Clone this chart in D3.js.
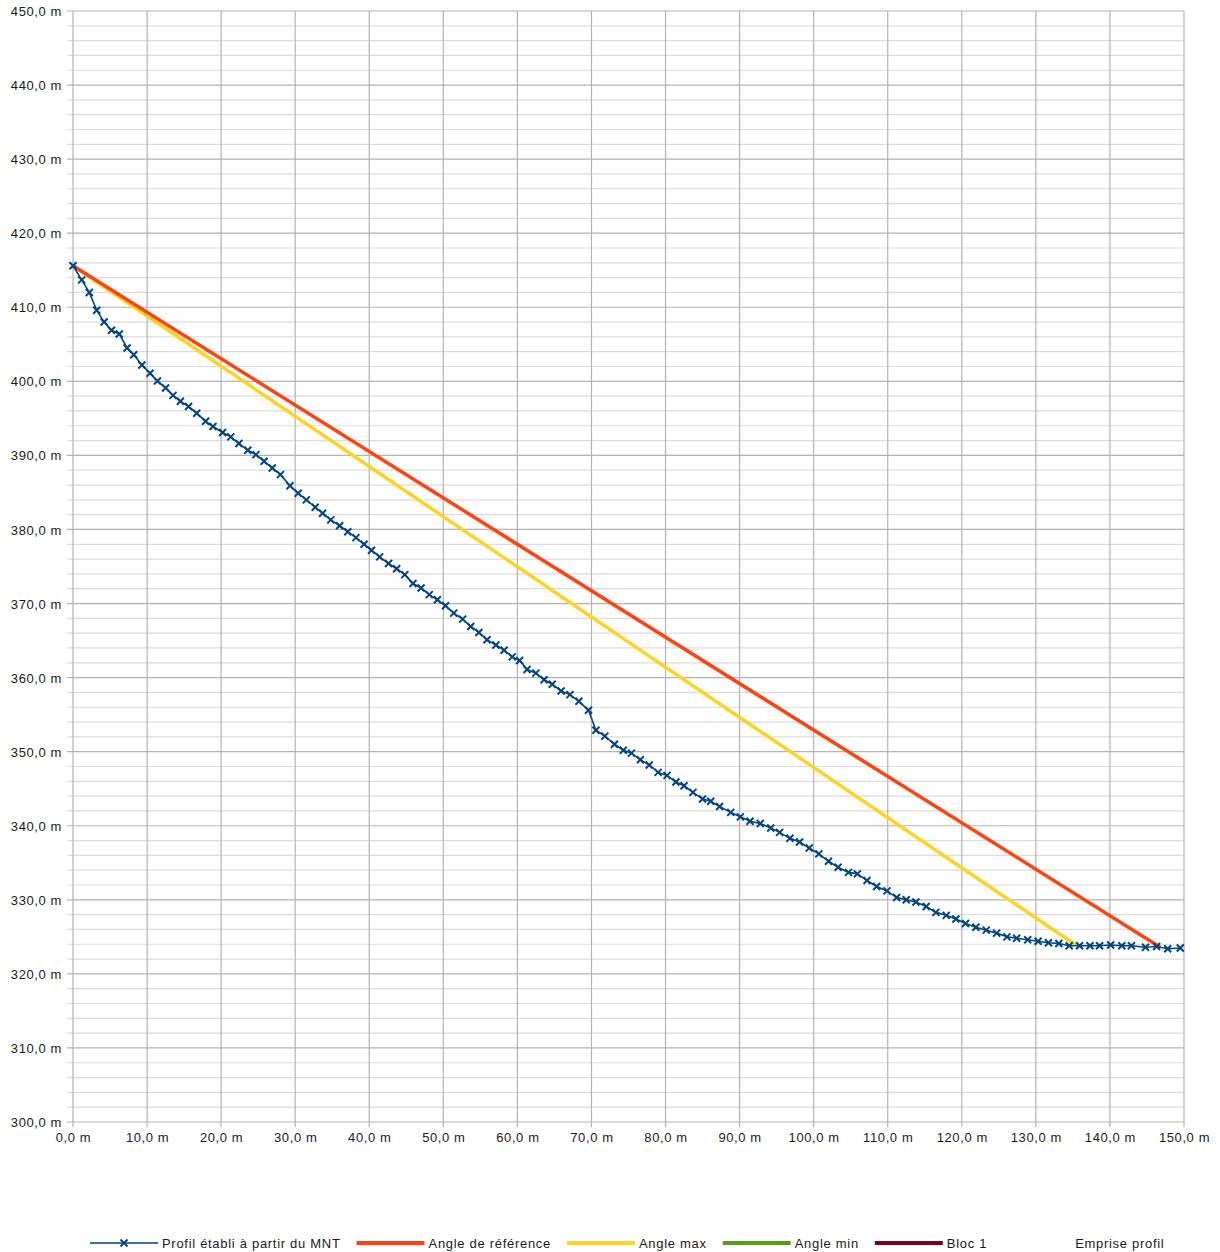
<!DOCTYPE html>
<html>
<head>
<meta charset="utf-8">
<script src="https://cdn.jsdelivr.net/npm/d3@7"></script>
<style>
    body { margin: 0; background: #fff; }
    text { font-family: "Liberation Sans", Arial, sans-serif; font-size: 13px; letter-spacing: 0.6px; fill: #1a1a1a; }
    .legend text { letter-spacing: 0.7px; }
</style>
</head>
<body>
<div id="chart"></div>
<script>

// Profile (distance in m, altitude in m)
var profileX = [0, 1.17, 2.2, 3.2, 4.2, 5.2, 6.25, 7.3, 8.2, 9.3, 10.4, 11.4, 12.5, 13.5, 14.5, 15.6, 16.7, 17.9, 18.9, 20.2,
    21.3, 22.4, 23.6, 24.7, 25.8, 26.9, 28.0, 29.3, 30.4, 31.5, 32.7, 33.7, 34.8, 36.0, 37.1, 38.2, 39.3, 40.3, 41.4, 42.6,
    43.7, 44.8, 45.9, 47.0, 48.1, 49.2, 50.3, 51.4, 52.6, 53.7, 54.8, 55.9, 57.1, 58.2, 59.3, 60.3, 61.3, 62.5, 63.6, 64.7,
    65.9, 67.1, 68.3, 69.6, 70.6, 71.8, 73.1, 74.3, 75.4, 76.6, 77.8, 79.0, 80.2, 81.4, 82.5, 83.7, 85.0, 86.1, 87.3, 88.8,
    90.1, 91.4, 92.8, 94.2, 95.4, 96.8, 98.1, 99.4, 100.7, 102.0, 103.3, 104.7, 105.9, 107.2, 108.5, 109.9, 111.2, 112.5, 113.8, 115.2,
    116.5, 117.9, 119.2, 120.5, 121.9, 123.3, 124.7, 126.1, 127.4, 128.9, 130.3, 131.7, 133.1, 134.5, 135.9, 137.3, 138.6, 140.1, 141.6, 142.9,
    144.8, 146.3, 147.8, 149.5];
var profileY = [415.6, 413.7, 412.0, 409.6, 408.0, 406.9, 406.4, 404.5, 403.6, 402.2, 401.1, 400.05, 399.1, 398.1, 397.3, 396.6, 395.7, 394.6, 393.9, 393.1,
    392.5, 391.6, 390.7, 390.1, 389.2, 388.3, 387.4, 385.9, 384.9, 384.0, 383.0, 382.2, 381.3, 380.5, 379.7, 378.9, 378.0, 377.2, 376.3, 375.4,
    374.7, 373.9, 372.7, 372.1, 371.2, 370.5, 369.7, 368.7, 367.9, 366.9, 366.1, 365.1, 364.4, 363.7, 362.8, 362.3, 361.1, 360.6, 359.7, 359.1,
    358.2, 357.7, 356.8, 355.6, 352.9, 352.1, 351.0, 350.2, 349.8, 348.9, 348.2, 347.2, 346.8, 345.9, 345.4, 344.5, 343.6, 343.3, 342.6, 341.8,
    341.2, 340.6, 340.3, 339.7, 339.1, 338.3, 337.8, 337.0, 336.2, 335.2, 334.4, 333.7, 333.5, 332.6, 331.8, 331.2, 330.3, 330.0, 329.7, 329.1,
    328.3, 327.9, 327.4, 326.8, 326.3, 325.9, 325.5, 325.0, 324.8, 324.6, 324.4, 324.2, 324.1, 323.8, 323.8, 323.8, 323.8, 323.9, 323.8, 323.8,
    323.6, 323.7, 323.4, 323.5];

// Straight lines (start / end)
var refAngleX = [0, 146.8];
var refAngleY = [415.6, 323.6];
var maxAngleX = [0, 135.4];
var maxAngleY = [415.6, 323.9];

// Empty series, shown only in the legend
var minAngleX = [], minAngleY = [];
var blocX = [], blocY = [];
var empriseX = [], empriseY = [];

var seriesNames = ["Profil établi à partir du MNT", "Angle de référence", "Angle max", "Angle min", "Bloc 1", "Emprise profil"];
var seriesColors = ["#004586", "#ff420e", "#ffd320", "#579d1c", "#7e0021", "none"];

var xTicks = d3.range(0, 151, 10);
var yTicks = d3.range(300, 451, 10);
var yMinorTicks = d3.range(300, 451, 2);

function fmt(v) {
    return v.toFixed(1).replace(".", ",") + " m";
}

var margin = {top: 11, right: 36, bottom: 130, left: 73};
var width = 1220 - margin.left - margin.right,
    height = 1252 - margin.top - margin.bottom;

var svg = d3.select("#chart").append("svg")
    .attr("width", 1220)
    .attr("height", 1252);

var g = svg.append("g")
    .attr("transform", "translate(" + margin.left + "," + margin.top + ")");

var x = d3.scaleLinear().domain([0, 150]).range([0, width]);
var y = d3.scaleLinear().domain([300, 450]).range([height, 0]);

// Minor grid (horizontal only)
g.selectAll(".minor-grid")
    .data(yMinorTicks.filter(function (d) { return d % 10 != 0; }))
    .enter().append("line")
    .attr("x1", -6).attr("x2", width)
    .attr("y1", function (d) { return y(d); })
    .attr("y2", function (d) { return y(d); })
    .attr("stroke", "#dddddd")
    .attr("stroke-width", 1.2);

// Major grid
g.selectAll(".major-grid-y")
    .data(yTicks)
    .enter().append("line")
    .attr("x1", -6).attr("x2", width)
    .attr("y1", function (d) { return y(d); })
    .attr("y2", function (d) { return y(d); })
    .attr("stroke", "#b3b3b3")
    .attr("stroke-width", 1.2);

g.selectAll(".major-grid-x")
    .data(xTicks)
    .enter().append("line")
    .attr("x1", function (d) { return x(d); })
    .attr("x2", function (d) { return x(d); })
    .attr("y1", 0).attr("y2", height + 5)
    .attr("stroke", "#b3b3b3")
    .attr("stroke-width", 1.2);

// Axes labels
var yAxis = d3.axisLeft(y).tickValues(yTicks).tickFormat(fmt).tickSize(0).tickPadding(11);
var xAxis = d3.axisBottom(x).tickValues(xTicks).tickFormat(fmt).tickSize(0).tickPadding(11);

g.append("g").attr("class", "y-axis").call(yAxis)
    .call(function (a) { a.select(".domain").remove(); });
g.append("g").attr("class", "x-axis")
    .attr("transform", "translate(0," + height + ")")
    .call(xAxis)
    .call(function (a) { a.select(".domain").remove(); });

g.selectAll(".tick text").style("font-family", null).style("font-size", null).attr("fill", "#1a1a1a");
g.selectAll(".y-axis .tick text").attr("dy", "0.35em");

// Lines
var line = d3.line()
    .x(function (d) { return x(d[0]); })
    .y(function (d) { return y(d[1]); });

function pairs(xs, ys) {
    return xs.map(function (v, i) { return [v, ys[i]]; });
}

g.append("path")
    .datum(pairs(maxAngleX, maxAngleY))
    .attr("d", line)
    .attr("fill", "none")
    .attr("stroke", seriesColors[2])
    .attr("stroke-width", 3.5);

g.append("path")
    .datum(pairs(refAngleX, refAngleY))
    .attr("d", line)
    .attr("fill", "none")
    .attr("stroke", seriesColors[1])
    .attr("stroke-width", 3.5);

var profile = pairs(profileX, profileY);

g.append("path")
    .datum(profile)
    .attr("d", line)
    .attr("fill", "none")
    .attr("stroke", seriesColors[0])
    .attr("stroke-width", 1.6);

var crossPath = "M-3.5,-3.5L3.5,3.5M-3.5,3.5L3.5,-3.5";

g.selectAll(".marker")
    .data(profile)
    .enter().append("path")
    .attr("class", "marker")
    .attr("transform", function (d) { return "translate(" + x(d[0]) + "," + y(d[1]) + ")"; })
    .attr("d", crossPath)
    .attr("stroke", seriesColors[0])
    .attr("stroke-width", 2);

// Legend
var legend = svg.append("g").attr("class", "legend").attr("transform", "translate(90,1243)");
var lx = 0;
seriesNames.forEach(function (name, i) {
    if (seriesColors[i] != "none") {
        legend.append("line")
            .attr("x1", lx).attr("x2", lx + 68)
            .attr("y1", 0).attr("y2", 0)
            .attr("stroke", seriesColors[i])
            .attr("stroke-width", i == 0 ? 1.6 : 4);
    }
    if (i == 0) {
        legend.append("path")
            .attr("transform", "translate(" + (lx + 34) + ",0)")
            .attr("d", crossPath)
            .attr("stroke", seriesColors[0])
            .attr("stroke-width", 2);
    }
    var t = legend.append("text")
        .attr("x", lx + 72)
        .attr("y", 0)
        .attr("dy", "0.35em")
        .text(name);
    lx += 72 + t.node().getComputedTextLength() + 16;
});

</script>
</body>
</html>
